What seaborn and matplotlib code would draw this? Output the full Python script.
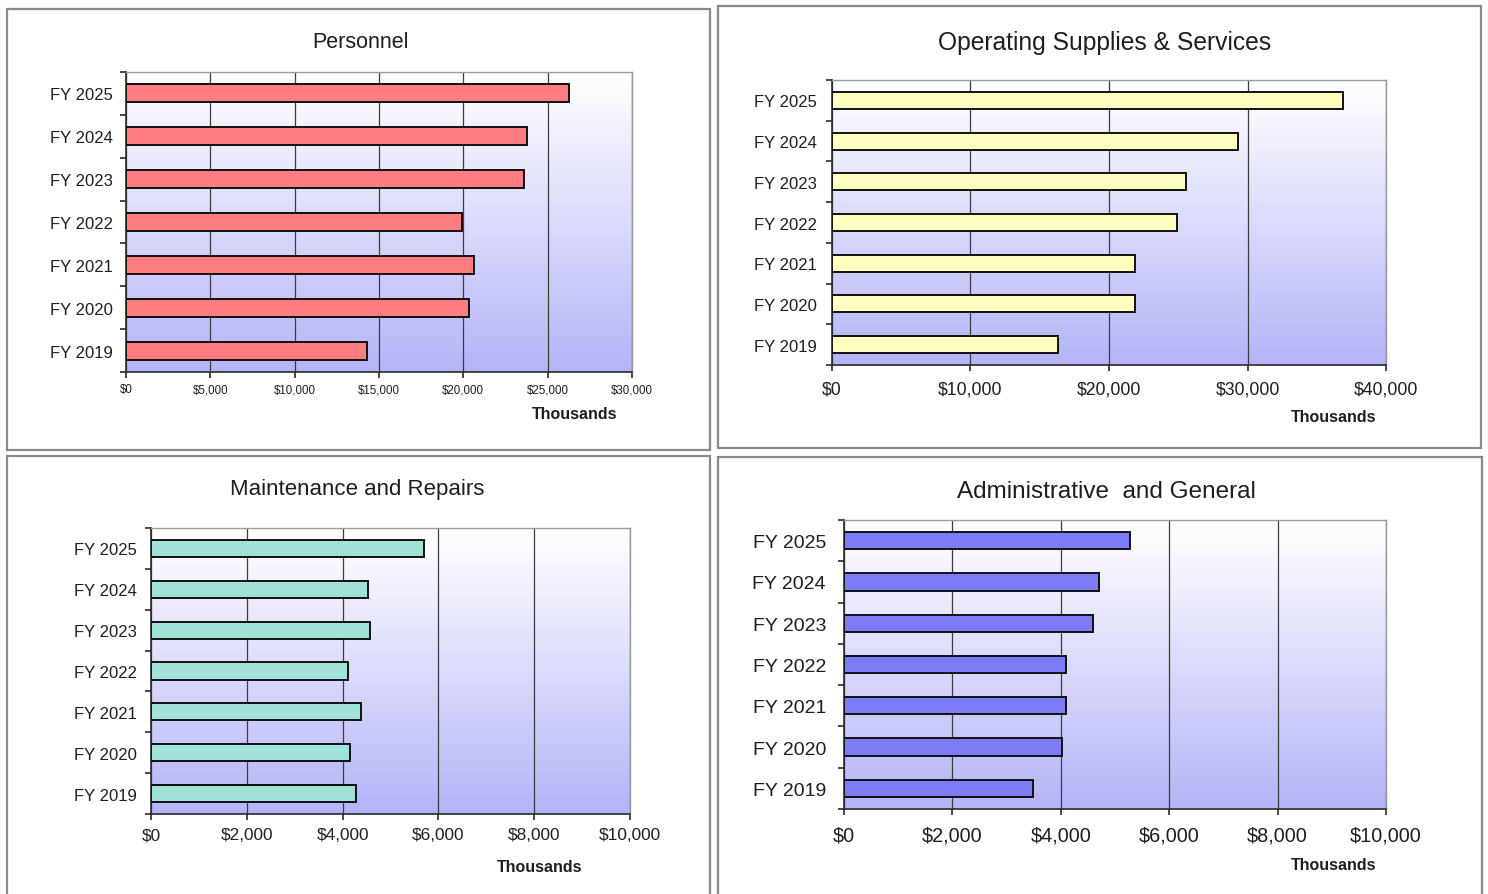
import numpy as np
import pandas as pd
import matplotlib
matplotlib.use("Agg")
import matplotlib.pyplot as plt
from matplotlib.patches import Rectangle
from matplotlib.ticker import FixedLocator
import seaborn as sns

# ---- data (thousands of dollars) ----
years = ["FY 2025", "FY 2024", "FY 2023", "FY 2022", "FY 2021", "FY 2020", "FY 2019"]

personnel = [26250, 23760, 23620, 19950, 20640, 20330, 14310]
operating = [36890, 29320, 25570, 24930, 21890, 21890, 16290]
maintenance = [5690, 4530, 4580, 4110, 4390, 4150, 4270]
administrative = [5270, 4700, 4590, 4100, 4100, 4020, 3490]

titles = ["Personnel", "Operating Supplies & Services",
          "Maintenance and Repairs", "Administrative  and General"]

personnel_ticks = [0, 5000, 10000, 15000, 20000, 25000, 30000]
operating_ticks = [0, 10000, 20000, 30000, 40000]
maintenance_ticks = [0, 2000, 4000, 6000, 8000, 10000]
administrative_ticks = [0, 2000, 4000, 6000, 8000, 10000]

bar_colors = ["#FF7C80", "#FFFFC0", "#A0E2DA", "#7C7CF6"]

# ---- styling ----
sns.set_style("white")
plt.rcParams["font.family"] = ["Liberation Sans", "DejaVu Sans"]

W, H = 1488, 895
fig = plt.figure(figsize=(W / 100, H / 100), dpi=100)
fig.patch.set_facecolor("white")


def rect(x0, y0, x1, y1):
    """Pixel box (top-left origin) -> figure fraction [l, b, w, h]."""
    return [x0 / W, 1 - y1 / H, (x1 - x0) / W, (y1 - y0) / H]


def fx(x):
    return x / W


def fy(y):
    return 1 - y / H


# layout of each panel: frame box, plot area, title / unit-label positions, font sizes
panels = [
    dict(values=personnel, ticks=personnel_ticks, box=(7, 10, 710, 451),
         plot=(126, 73, 632, 373), title_xy=(360, 42), unit_xy=(575, 415),
         title_fs=15.5, ylab_fs=12, xtick_fs=8.3, xpad=4, ypad=9.4),
    dict(values=operating, ticks=operating_ticks, box=(718, 7, 1481, 449),
         plot=(832, 81, 1386, 366), title_xy=(1105, 43), unit_xy=(1334, 418),
         title_fs=17.7, ylab_fs=12, xtick_fs=12.7, xpad=7, ypad=10.8),
    dict(values=maintenance, ticks=maintenance_ticks, box=(7, 457, 710, 905),
         plot=(151, 529, 630, 815), title_xy=(357, 490), unit_xy=(540, 868),
         title_fs=16, ylab_fs=12, xtick_fs=12.4, xpad=5.4, ypad=10),
    dict(values=administrative, ticks=administrative_ticks, box=(718, 458, 1482, 905),
         plot=(844, 521, 1386, 810), title_xy=(1106, 492), unit_xy=(1334, 866),
         title_fs=17.5, ylab_fs=14, xtick_fs=14.3, xpad=8, ypad=13),
]

# vertical white-to-lavender gradient used behind each plot area
t = np.linspace(0, 1, 256)[:, None] ** 1.05
top = np.array([1.0, 1.0, 1.0])
bottom = np.array([180, 180, 248]) / 255.0
grad = (top * (1 - t) + bottom * t)[:, None, :].repeat(2, axis=1)

text_color = "#1e1e1e"

for i, p in enumerate(panels):
    # outer frame of the panel
    bx0, by0, bx1, by1 = p["box"]
    fig.patches.append(Rectangle((fx(bx0), fy(by1)), fx(bx1 - bx0), (by1 - by0) / H,
                                 transform=fig.transFigure, facecolor="white",
                                 edgecolor="#8a8a8a", linewidth=1.6, zorder=0))

    # gradient background axes
    bg = fig.add_axes(rect(*p["plot"]), zorder=1)
    bg.imshow(grad, aspect="auto", extent=(0, 1, 0, 1), interpolation="bilinear")
    bg.set_axis_off()

    ax = fig.add_axes(rect(*p["plot"]), zorder=2)
    ax.set_facecolor("none")

    df = pd.DataFrame({"year": years, "value": p["values"]})
    sns.barplot(data=df, x="value", y="year", orient="h", order=years,
                color=bar_colors[i], saturation=1, width=0.42,
                edgecolor="#111111", linewidth=1.4, ax=ax, zorder=3)

    ticks = p["ticks"]
    ax.set_xlim(ticks[0], ticks[-1])
    ax.set_ylim(len(years) - 0.5, -0.5)
    ax.set_xticks(ticks)
    ax.set_xticklabels([f"${v:,}" for v in ticks])
    ax.set_xlabel("")
    ax.set_ylabel("")

    # vertical gridlines
    ax.set_axisbelow(True)
    ax.xaxis.grid(True, color="#3c3c3c", linewidth=0.9)
    ax.yaxis.grid(False)

    # frame
    for side in ["top", "right"]:
        ax.spines[side].set_visible(True)
        ax.spines[side].set_color("#9a9a9a")
        ax.spines[side].set_linewidth(1.0)
    for side in ["left", "bottom"]:
        ax.spines[side].set_visible(True)
        ax.spines[side].set_color("#2a2a2a")
        ax.spines[side].set_linewidth(1.2)

    # category boundary ticks on the y axis
    ax.yaxis.set_minor_locator(FixedLocator(np.arange(-0.5, len(years), 1.0)))
    ax.tick_params(axis="y", which="major", length=0, pad=p["ypad"],
                   labelsize=p["ylab_fs"], labelcolor=text_color)
    ax.tick_params(axis="y", which="minor", length=4, width=1.2,
                   color="#2a2a2a", direction="out", left=True)
    ax.tick_params(axis="x", which="major", length=4, width=1.2, color="#2a2a2a",
                   direction="out", bottom=True, pad=p["xpad"],
                   labelsize=p["xtick_fs"], labelcolor=text_color)

    # panel title and unit label
    tx, ty = p["title_xy"]
    fig.text(fx(tx), fy(ty), titles[i], ha="center", va="center",
             fontsize=p["title_fs"], color=text_color)
    ux, uy = p["unit_xy"]
    fig.text(fx(ux), fy(uy), "Thousands", ha="center", va="center",
             fontsize=11.5, fontweight="bold", color=text_color)

fig.savefig("out.png", dpi=100, facecolor="white")
